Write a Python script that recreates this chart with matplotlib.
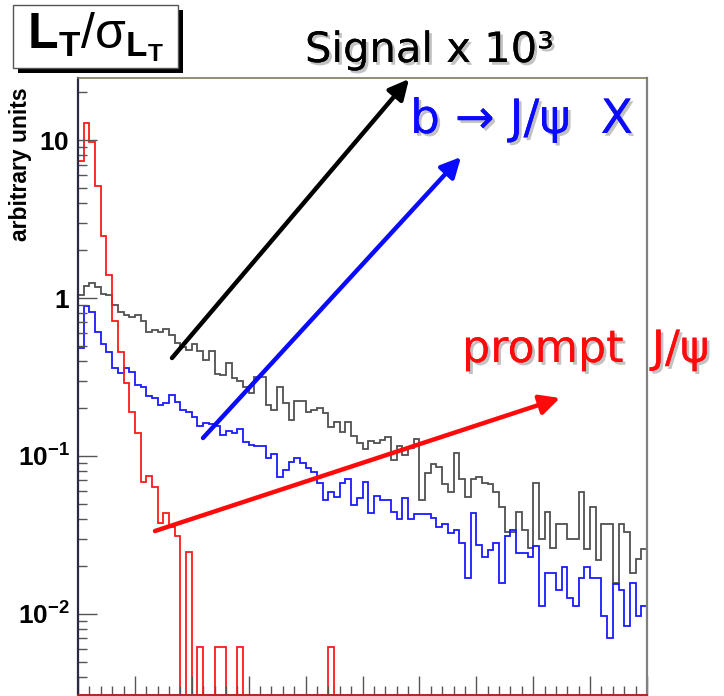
import numpy as np
import matplotlib
matplotlib.use("Agg")
import matplotlib.pyplot as plt
from matplotlib import patheffects as pe
from matplotlib.patches import Rectangle, FancyArrowPatch
from matplotlib.ticker import MultipleLocator, LogLocator, NullFormatter, FixedLocator, FixedFormatter

plt.rcParams['mathtext.fontset'] = 'custom'
plt.rcParams['mathtext.rm'] = 'Liberation Sans'
plt.rcParams['mathtext.bf'] = 'Liberation Sans:bold'
plt.rcParams['mathtext.it'] = 'Liberation Sans:italic'
plt.rcParams['mathtext.sf'] = 'Liberation Sans'

# ---------------- data: L_T / sigma(L_T) histograms, 100 bins ----------------
bin_edges = np.linspace(0, 100, 101)

prompt_jpsi = [
    7.4, 12.8, 9.7, 5.1, 2.47, 1.40, 0.715, 0.457, 0.291, 0.19,
    0.139, 0.0687, 0.075, 0.0634, 0.0379, 0.0438, 0.0357, 0.0312, 0, 0.0248,
    0, 0.0062, 0, 0, 0.0062, 0.0062, 0, 0, 0.0062, 0,
    0, 0, 0, 0, 0, 0, 0, 0, 0, 0,
    0, 0, 0, 0, 0.0062, 0, 0, 0, 0, 0,
    0, 0, 0, 0, 0, 0, 0, 0, 0, 0,
    0, 0, 0, 0, 0, 0, 0, 0, 0, 0,
    0, 0, 0, 0, 0, 0, 0, 0, 0, 0,
    0, 0, 0, 0, 0, 0, 0, 0, 0, 0,
    0, 0, 0, 0, 0, 0, 0, 0, 0, 0,
]

b_to_jpsi = [
    0.48, 0.89, 0.82, 0.61, 0.51, 0.457, 0.359, 0.337, 0.359, 0.341,
    0.281, 0.272, 0.24, 0.234, 0.21, 0.216, 0.243, 0.221, 0.195, 0.19,
    0.177, 0.155, 0.161, 0.16, 0.155, 0.136, 0.143, 0.139, 0.148, 0.123,
    0.117, 0.115, 0.116, 0.097, 0.103, 0.074, 0.0815, 0.092, 0.0976, 0.0907,
    0.0836, 0.0796, 0.0672, 0.0527, 0.0594, 0.0553, 0.0672, 0.0711, 0.049, 0.054,
    0.0687, 0.0438, 0.0561, 0.0527, 0.0527, 0.0445, 0.0397, 0.054, 0.0397, 0.043,
    0.0432, 0.0429, 0.0404, 0.0357, 0.037, 0.0327, 0.034, 0.0283, 0.017, 0.0438,
    0.0273, 0.0229, 0.0254, 0.0283, 0.0156, 0.0312, 0.034, 0.0242, 0.0242, 0.0229,
    0.0269, 0.0112, 0.0183, 0.0183, 0.0142, 0.0197, 0.0126, 0.0112, 0.0168, 0.0197,
    0.017, 0.017, 0.0097, 0.0070, 0.0155, 0.0142, 0.0084, 0.0156, 0.0097, 0.0112,
]

signal_x1e3 = [
    1.045, 1.19, 1.24, 1.18, 1.06, 1.045, 0.90, 0.82, 0.78, 0.76,
    0.78, 0.72, 0.61, 0.63, 0.61, 0.64, 0.58, 0.52, 0.49, 0.47,
    0.51, 0.46, 0.405, 0.46, 0.33, 0.326, 0.39, 0.31, 0.30, 0.275,
    0.249, 0.318, 0.318, 0.21, 0.195, 0.272, 0.217, 0.17, 0.223, 0.223,
    0.19, 0.195, 0.20, 0.186, 0.153, 0.165, 0.142, 0.165, 0.134, 0.120,
    0.110, 0.124, 0.121, 0.126, 0.131, 0.094, 0.115, 0.101, 0.112, 0.128,
    0.053, 0.0784, 0.089, 0.0848, 0.0665, 0.0595, 0.105, 0.0711, 0.0553, 0.0711,
    0.074, 0.0672, 0.0665, 0.0595, 0.0478, 0.0332, 0.0332, 0.0445, 0.034, 0.026,
    0.0672, 0.0297, 0.0445, 0.026, 0.0372, 0.0372, 0.0297, 0.0297, 0.0595, 0.0257,
    0.0478, 0.022, 0.0372, 0.0372, 0.0156, 0.0372, 0.0332, 0.0183, 0.0222, 0.0257,
]

y_ticks = [1e-2, 1e-1, 1, 10]
y_tick_labels = [r'$\mathbf{10^{-2}}$', r'$\mathbf{10^{-1}}$', r'$\mathbf{1}$', r'$\mathbf{10}$']

# ---------------- figure ----------------
W, H = 724, 696
fig = plt.figure(figsize=(W / 100, H / 100), dpi=100)
fig.patch.set_facecolor('white')

ax = fig.add_axes([78 / W, 1 / H, (647 - 78) / W, (695 - 78) / H])
ax.set_yscale('log')
ax.set_xlim(0, 100)
ax.set_ylim(3.07e-3, 24.7)

floor = 1e-4
ax.stairs(np.where(np.array(signal_x1e3) > 0, signal_x1e3, floor), bin_edges,
          color='#505050', lw=1.3, baseline=None)
ax.stairs(np.where(np.array(b_to_jpsi) > 0, b_to_jpsi, floor), bin_edges,
          color='#1a1aff', lw=1.3, baseline=None)
ax.stairs(np.where(np.array(prompt_jpsi) > 0, prompt_jpsi, floor), bin_edges,
          color='#ff1a1a', lw=1.3, baseline=None)

# axes frame
ax.spines['left'].set_color('#2a2a44')
ax.spines['left'].set_linewidth(1.6)
ax.spines['top'].set_color('#7d7a5c')
ax.spines['top'].set_linewidth(1.2)
ax.spines['right'].set_color('#808080')
ax.spines['right'].set_linewidth(1.6)
ax.spines['bottom'].set_color('#b0281a')
ax.spines['bottom'].set_linewidth(1.4)

# ticks
ax.xaxis.set_major_locator(MultipleLocator(10))
ax.xaxis.set_minor_locator(MultipleLocator(2))
ax.xaxis.set_major_formatter(NullFormatter())
ax.yaxis.set_major_locator(FixedLocator(y_ticks))
ax.yaxis.set_major_formatter(FixedFormatter(y_tick_labels))
ax.yaxis.set_minor_locator(LogLocator(base=10, subs=np.arange(2, 10)))
ax.yaxis.set_minor_formatter(NullFormatter())
ax.tick_params(axis='both', which='major', direction='in', length=13.5,
               width=1.0, color='#555555')
ax.tick_params(axis='both', which='minor', direction='in', length=6.5,
               width=1.0, color='#555555')
ax.tick_params(axis='y', which='major', labelsize=19, pad=6)
ax.tick_params(top=False, right=False, which='both')

# y axis title
fig.text(21 / W, 1 - 87 / H, 'arbitrary units', rotation=90, ha='center', va='top',
         fontsize=16.5, fontweight='bold', family='Liberation Sans')

# variable box with drop shadow
def fig_rect(x0, y0, x1, y1, **kw):
    return Rectangle((x0 / W, 1 - y1 / H), (x1 - x0) / W, (y1 - y0) / H,
                     transform=fig.transFigure, **kw)

fig.add_artist(fig_rect(18, 10, 183, 73, facecolor='black', edgecolor='none', zorder=5))
fig.add_artist(fig_rect(13, 5, 178, 68, facecolor='white', edgecolor='#555555',
                        lw=1.0, zorder=6))
fig.text(96 / W, 1 - 37 / H,
         r'$\mathbf{L_T}/\mathrm{σ}_{\mathbf{L_T}}$',
         ha='center', va='center', fontsize=36, zorder=7)

# labels and arrows
shadow = [pe.withSimplePatchShadow(offset=(2, -2), shadow_rgbFace='#9a9a9a', alpha=0.6),
          pe.Normal()]

fig.text(305 / W, 1 - 62 / H, 'Signal x 10³', color='black', fontsize=30,
         ha='left', va='baseline', family='DejaVu Sans', path_effects=shadow)
fig.text(410 / W, 1 - 133 / H, 'b → J/ψ  X', color='#0a0aff', fontsize=34,
         ha='left', va='baseline', family='DejaVu Sans', path_effects=shadow)
fig.text(462 / W, 1 - 362 / H, 'prompt  J/ψ', color='#ff0a0a', fontsize=32,
         ha='left', va='baseline', family='DejaVu Sans', path_effects=shadow)

def arrow(x0, y0, x1, y1, color):
    fig.add_artist(FancyArrowPatch(
        (x0 / W, 1 - y0 / H), (x1 / W, 1 - y1 / H), transform=fig.transFigure,
        arrowstyle='-|>,head_length=12,head_width=6', mutation_scale=1,
        color=color, lw=3.2, shrinkA=0, shrinkB=0, zorder=8))

arrow(172, 358, 409, 79, 'black')
arrow(203, 438, 461, 157, '#0a0aff')
arrow(155, 531, 560, 398, '#ff0a0a')

fig.savefig('out.png', dpi=100)
